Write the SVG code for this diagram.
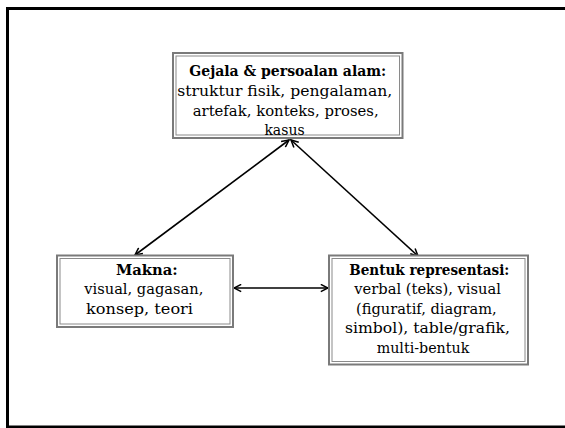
<svg xmlns="http://www.w3.org/2000/svg" width="565" height="428" viewBox="0 0 565 428">
<style>
.t{font-family:"DejaVu Serif","Liberation Serif",serif;font-size:14px;fill:#000}
.b{font-weight:bold}
.bo{fill:#fff;stroke:#7a7a7a;stroke-width:2}
.bi{fill:none;stroke:#8a8a8a;stroke-width:1}
.c{stroke:#000;stroke-width:1.6;fill:none}
</style>
<defs>
<marker id="ah" viewBox="0 0 10 10" refX="9" refY="5" markerWidth="9" markerHeight="9" markerUnits="userSpaceOnUse" orient="auto-start-reverse">
<path d="M1,1 L9,5 L1,9" fill="none" stroke="#000" stroke-width="1.7"/>
</marker>
</defs>
<rect x="0" y="0" width="565" height="428" fill="#fff"/>
<rect x="7.5" y="8.5" width="570" height="418.5" fill="none" stroke="#000" stroke-width="3"/>
<g id="connectors">
<line class="c" x1="289" y1="140" x2="135" y2="255" marker-start="url(#ah)" marker-end="url(#ah)"/>
<line class="c" x1="291" y1="140" x2="418" y2="256" marker-start="url(#ah)" marker-end="url(#ah)"/>
<line class="c" x1="234" y1="288" x2="328" y2="288" marker-start="url(#ah)" marker-end="url(#ah)"/>
</g>
<g id="gejala">
<rect class="bo" x="173" y="53" width="229.5" height="85"/>
<rect class="bi" x="176" y="56" width="223.5" height="79"/>
<text class="t b" x="189.3" y="76" textLength="197" lengthAdjust="spacingAndGlyphs">Gejala &amp; persoalan alam:</text>
<text class="t" x="177.3" y="96" textLength="215" lengthAdjust="spacingAndGlyphs">struktur fisik, pengalaman,</text>
<text class="t" x="192.7" y="115.5" textLength="186" lengthAdjust="spacingAndGlyphs">artefak, konteks, proses,</text>
<text class="t" x="284.5" y="135" text-anchor="middle">kasus</text>
</g>
<g id="makna">
<rect class="bo" x="57" y="255.5" width="176" height="71.5"/>
<rect class="bi" x="60" y="258.5" width="170" height="65.5"/>
<text class="t b" x="116" y="275" textLength="61.7" lengthAdjust="spacingAndGlyphs">Makna:</text>
<text class="t" x="84.3" y="294" textLength="119" lengthAdjust="spacingAndGlyphs">visual, gagasan,</text>
<text class="t" x="86" y="313.5" textLength="107" lengthAdjust="spacingAndGlyphs">konsep, teori</text>
</g>
<g id="bentuk">
<rect class="bo" x="329" y="255.5" width="199" height="109"/>
<rect class="bi" x="332" y="258.5" width="193" height="103"/>
<text class="t b" x="349.3" y="275" textLength="160" lengthAdjust="spacingAndGlyphs">Bentuk representasi:</text>
<text class="t" x="354.3" y="294" textLength="146.7" lengthAdjust="spacingAndGlyphs">verbal (teks), visual</text>
<text class="t" x="356" y="313.5" textLength="140.7" lengthAdjust="spacingAndGlyphs">(figuratif, diagram,</text>
<text class="t" x="345" y="333" textLength="165" lengthAdjust="spacingAndGlyphs">simbol), table/grafik,</text>
<text class="t" x="376.7" y="352.5" textLength="92.6" lengthAdjust="spacingAndGlyphs">multi-bentuk</text>
</g>
</svg>
